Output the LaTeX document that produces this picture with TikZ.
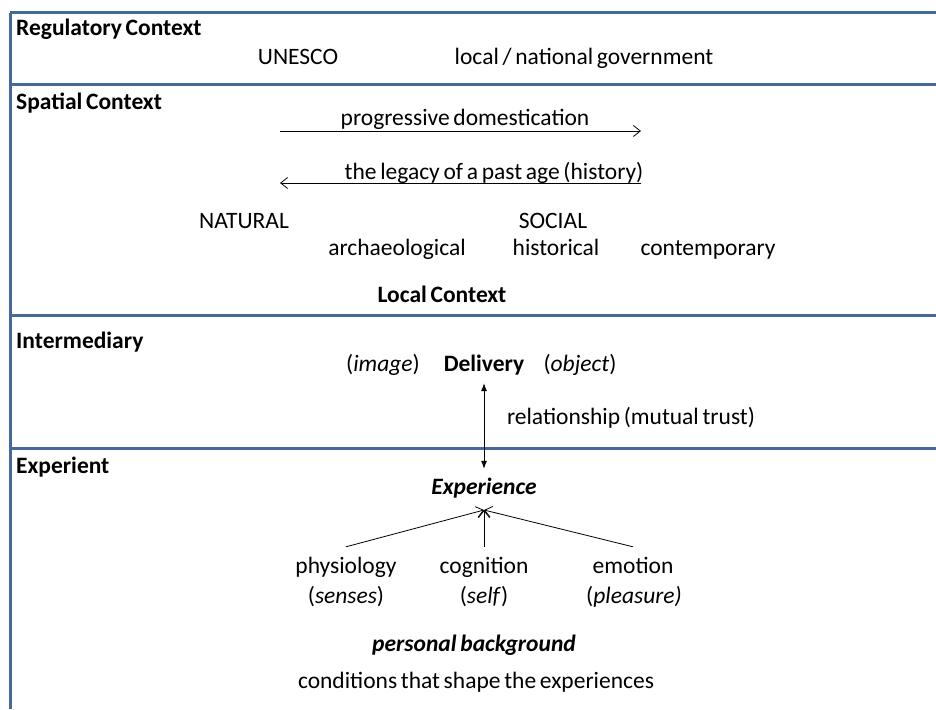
\documentclass[tikz,border=0pt]{standalone}
\usepackage{fontspec}
\setmainfont{Carlito}[WordSpace=0.7]
\usetikzlibrary{arrows.meta}
\definecolor{bandblue}{HTML}{46699A}
\newcommand\txtsize{\fontsize{23.5}{28}\selectfont}

\begin{document}
\begin{tikzpicture}[x=1pt,y=-1pt,
  every node/.style={font=\txtsize, inner sep=2pt, text height=17pt, text depth=5pt},
  band/.style={draw=bandblue, line width=3pt},
  section/.style={anchor=west, font=\txtsize\bfseries},
  strong/.style={font=\txtsize\bfseries},
  strongit/.style={font=\txtsize\bfseries\itshape},
  flow/.style={line width=0.8pt, -{Straight Barb[length=7pt,width=11pt]}},
  link/.style={line width=0.8pt, {Latex[length=8pt,width=6pt]}-{Latex[length=8pt,width=6pt]}}]
\useasboundingbox (0,0) rectangle (936,709);

% frame
\foreach \y in {13,84,315,448} {
    \draw[band] (10,\y) -- (936,\y);
}
\draw[band] (10,13) -- (10,709);

% Regulatory Context
\node[section] (regulatory) at (14,30) {Regulatory Context};
\node (unesco) at (298,58) {UNESCO};
\node (government) at (584,58) {local / national government};

% Spatial Context
\node[section] (spatial) at (14,103) {Spatial Context};
\node (domestication) at (465,119) {progressive domestication};
\coordinate (domleft) at (280,131);
\coordinate (domright) at (641,131);
\draw[flow] (domleft) -- (domright);
\node (legacy) at (494,173) {the legacy of a past age (history)};
\coordinate (legright) at (641,183);
\coordinate (legleft) at (280,183);
\draw[flow] (legright) -- (legleft);
\node (natural) at (244,222) {NATURAL};
\node (social) at (553,222) {SOCIAL};
\node (archaeological) at (397,249) {archaeological};
\node (historical) at (556,249) {historical};
\node (contemporary) at (708,249) {contemporary};
\node[strong] (local) at (442,296) {Local Context};

% Intermediary
\node[section] (intermediary) at (14,342) {Intermediary};
\node (image) at (383,365) {(\textit{image})};
\node[strong] (delivery) at (484,365) {Delivery};
\node (object) at (580,365) {(\textit{object})};
\node (relationship) at (631,418) {relationship (mutual trust)};

% Experient
\node[section] (experient) at (14,467) {Experient};
\node[strongit] (experience) at (484,488) {Experience};
\draw[link, shorten <=5pt, shorten >=6pt] (delivery.south) -- (experience.north);
\coordinate (apex) at (484,510);
\node (physiology) at (346,567) {physiology};
\node (senses) at (346,597) {(\textit{senses})};
\node (cognition) at (484,567) {cognition};
\node (self) at (484,597) {(\textit{self})};
\node (emotion) at (633,567) {emotion};
\node (pleasure) at (634,597) {(\textit{pleasure)}};
\foreach \n in {physiology,cognition,emotion} {
    \draw[flow] ([yshift=7pt]\n.north) -- (apex);
}
\node[strongit] (background) at (474,645) {personal background};
\node (conditions) at (476,682) {conditions that shape the experiences};
\end{tikzpicture}
\end{document}
